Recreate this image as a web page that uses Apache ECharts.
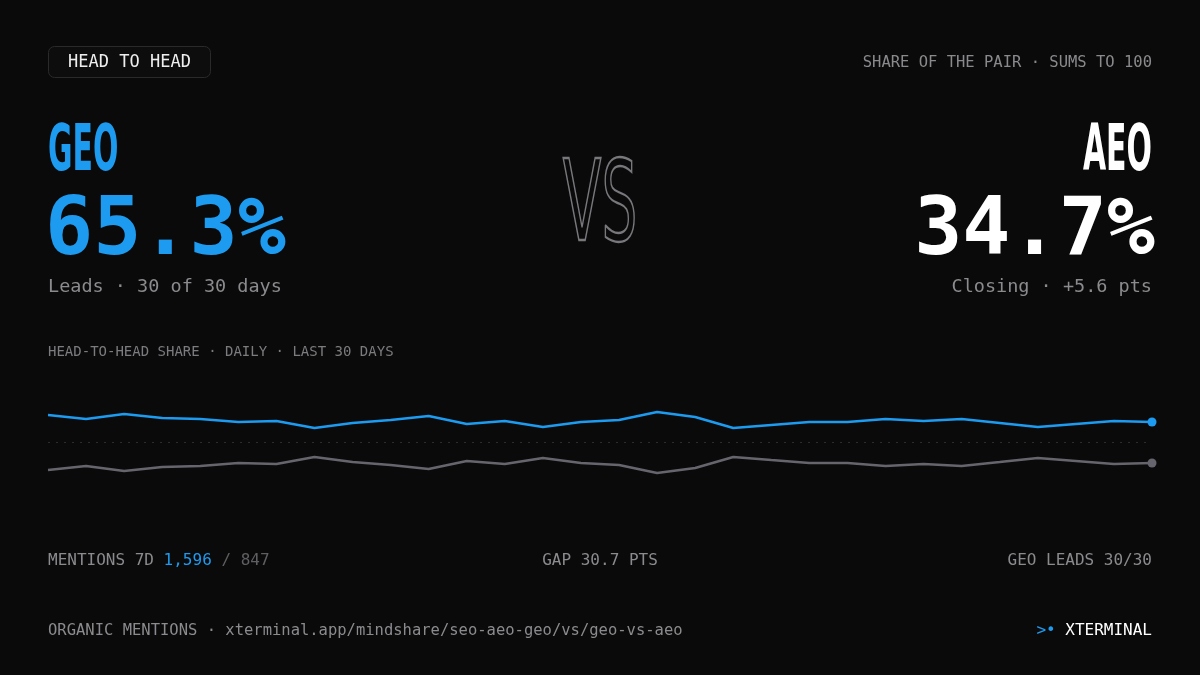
<!DOCTYPE html>
<html><head><meta charset="utf-8">
<script src="https://cdn.jsdelivr.net/npm/echarts@6/dist/echarts.min.js"></script>
<style>html,body{margin:0;background:#0a0a0a}#c{width:1200px;height:675px}</style>
</head><body><div id="c"></div>
<script>
const days = Array.from({length:30},(_,i)=>'D'+(i+1));
const geoShare = [70.5,67.5,71.3,68.3,67.5,65.3,66.0,60.8,64.6,66.8,69.8,63.8,66.0,61.6,65.3,66.8,72.8,69.0,60.8,63.1,65.3,65.3,67.5,66.0,67.5,64.6,61.6,63.8,66.0,65.3];
const aeoShare = geoShare.map(v=>+(100-v).toFixed(1));
const BLUE='#1d9bf0', GREY='#66656d', MUTED='#8b8b8f';
const mono='"DejaVu Sans Mono", monospace';
const cond='"DejaVu Sans Condensed","DejaVu Sans",sans-serif';
const chart = echarts.init(document.getElementById('c'));
function withEnd(arr){return arr.map((v,i)=>i===arr.length-1?{value:v,symbol:'circle',symbolSize:9}:v);}
const T=(x,y,text,o,extra)=>Object.assign({type:'text',x,y,style:Object.assign({text,fill:MUTED,font:'15px '+mono,textVerticalAlign:'middle'},o||{})},extra||{});
chart.setOption({
  backgroundColor:'#0a0a0a',
  animation:false,
  grid:{left:48,right:48,top:375.5,height:134},
  xAxis:{type:'category',data:days,boundaryGap:false,show:false},
  yAxis:{type:'value',min:0,max:100,show:false},
  series:[
    {type:'line',data:withEnd(geoShare),symbol:'none',showSymbol:true,lineStyle:{color:BLUE,width:2.5},itemStyle:{color:BLUE},
     markLine:{silent:true,symbol:'none',label:{show:false},data:[{yAxis:50}],lineStyle:{color:'#2c2c2c',type:[2,6],width:1}}},
    {type:'line',data:withEnd(aeoShare),symbol:'none',showSymbol:true,lineStyle:{color:GREY,width:2.5},itemStyle:{color:GREY}}
  ],
  graphic:[
    {type:'rect',shape:{x:48.5,y:46.5,width:162,height:31,r:6},style:{fill:'#0d0d0d',stroke:'#2a2a2a',lineWidth:1}},
    T(129.5,63,'HEAD TO HEAD',{fill:'#eeeeee',font:'17px '+mono,textAlign:'center'}),
    T(1152,63,'SHARE OF THE PAIR · SUMS TO 100',{textAlign:'right',font:'15.5px '+mono,fill:'#8a8a8e'}),
    T(48,153,'GEO',{fill:BLUE,font:'bold 64px '+cond},{scaleX:0.52}),
    T(1152,153,'AEO',{fill:'#ffffff',textAlign:'right',font:'bold 64px '+cond},{scaleX:0.52}),
    T(600,211,'VS',{fill:'none',stroke:'#77777c',lineWidth:2.4,textAlign:'center',font:'112px '+cond},{scaleX:0.56}),
    T(45,233,'65.3%',{fill:BLUE,font:'bold 80px '+mono}),
    T(1155,233,'34.7%',{fill:'#ffffff',textAlign:'right',font:'bold 80px '+mono}),
    T(48,287,'Leads · 30 of 30 days',{font:'18.5px '+mono}),
    T(1152,287,'Closing · +5.6 pts',{textAlign:'right',font:'18.5px '+mono}),
    T(48,352,'HEAD-TO-HEAD SHARE · DAILY · LAST 30 DAYS',{font:'14px '+mono,fill:'#7c7c80'}),
    {type:'text',x:48,y:561,style:{text:'{a|MENTIONS 7D }{b|1,596}{c| / 847}',textVerticalAlign:'middle',font:'16px '+mono,rich:{a:{fill:MUTED,font:'16px '+mono},b:{fill:BLUE,font:'16px '+mono},c:{fill:'#5f5f63',font:'16px '+mono}}}},
    T(600,561,'GAP 30.7 PTS',{textAlign:'center',font:'16px '+mono}),
    T(1152,561,'GEO LEADS 30/30',{textAlign:'right',font:'16px '+mono}),
    T(48,631,'ORGANIC MENTIONS · xterminal.app/mindshare/seo-aeo-geo/vs/geo-vs-aeo',{font:'15.5px '+mono}),
    {type:'text',x:1152,y:631,style:{text:'{a|>•}{b| XTERMINAL}',textAlign:'right',textVerticalAlign:'middle',font:'16px '+mono,rich:{a:{fill:BLUE,font:'16px '+mono},b:{fill:'#ffffff',font:'16px '+mono}}}}
  ]
});
</script></body></html>
